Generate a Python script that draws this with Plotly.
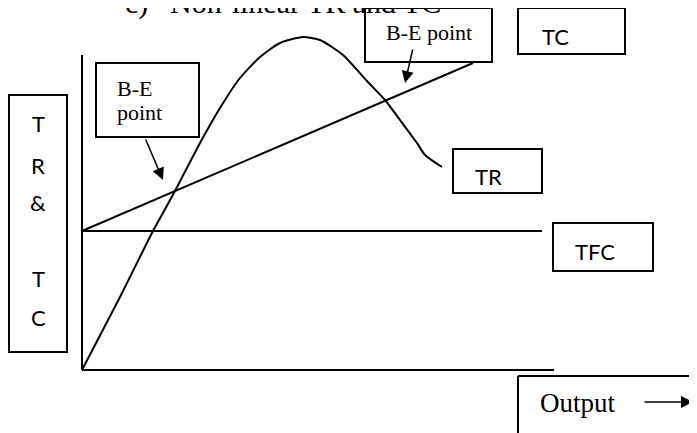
import plotly.graph_objects as go

# ---- data (output units on x, TR & TC units on y) ----
tr_output = [0, 38, 71, 93, 118, 138, 158, 178, 198, 221, 238, 261, 285, 303, 318, 335, 343, 360]
tr_values = [0, 73, 139, 179, 227, 262, 292, 313, 327, 333, 330, 315, 289, 270, 250, 227, 215, 203]
tc_output = [0, 391]
tc_values = [139, 307]
tfc_output = [0, 460]
tfc_values = [139, 139]
xaxis_line_x = [0, 472]
xaxis_line_y = [0, 0]
yaxis_line_x = [0, 0]
yaxis_line_y = [0, 315]

title_label = "Non-linear TR and TC"
title_prefix = "c)"
be_label_left = ["B-E", "point"]
be_label_right = "B-E point"
y_letters = ["T", "R", "&", "T", "C"]
curve_labels = {"TC": "TC", "TR": "TR", "TFC": "TFC"}
x_label = "Output"

SERIF = "Liberation Serif, Times New Roman, serif"
SANS = "Lato, Carlito, Calibri, sans-serif"
BLACK = "#000000"

fig = go.Figure()
line_style = dict(color=BLACK, width=2)
fig.add_trace(go.Scatter(x=xaxis_line_x, y=xaxis_line_y, mode="lines", line=line_style, hoverinfo="skip"))
fig.add_trace(go.Scatter(x=yaxis_line_x, y=yaxis_line_y, mode="lines", line=line_style, hoverinfo="skip"))
fig.add_trace(go.Scatter(x=tfc_output, y=tfc_values, mode="lines", line=line_style, name="TFC"))
fig.add_trace(go.Scatter(x=tc_output, y=tc_values, mode="lines", line=line_style, name="TC"))
fig.add_trace(go.Scatter(x=tr_output, y=tr_values, mode="lines",
                         line=dict(color=BLACK, width=2, shape="spline", smoothing=0.6), name="TR"))

# ---- label boxes ----
def box(x0, y0, x1, y1):
    fig.add_shape(type="rect", xref="x", yref="y", x0=x0, y0=y0, x1=x1, y1=y1,
                  line=dict(color=BLACK, width=2), fillcolor="rgba(0,0,0,0)")

box(-73, 18, -15, 275)      # vertical TR & TC label
box(14, 233, 117, 307)      # B-E point (left)
box(283, 308, 410, 362)     # B-E point (right)
box(436, 316, 543, 362)     # TC
box(371, 177, 460, 221)     # TR
box(471, 99, 571, 147)      # TFC
fig.add_shape(type="line", xref="x", yref="y", x0=436, y0=-6, x1=640, y1=-6, line=dict(color=BLACK, width=2))
fig.add_shape(type="line", xref="x", yref="y", x0=436, y0=-6, x1=436, y1=-90, line=dict(color=BLACK, width=2))

def text(x, y, s, font, size, xanchor="left", yanchor="middle"):
    fig.add_annotation(x=x, y=y, xref="x", yref="y", text=s, showarrow=False,
                       xanchor=xanchor, yanchor=yanchor,
                       font=dict(family=font, size=size, color=BLACK))

# title (clipped at the top edge, as in the source)
for tx, s in [(41, title_prefix), (86, title_label)]:
    fig.add_annotation(x=tx, y=1.0125, xref="x", yref="paper", text=s, showarrow=False,
                       xanchor="left", yanchor="middle",
                       font=dict(family=SERIF, size=30, color=BLACK))

# vertical label letters
for letter, yy in zip(y_letters, [247, 205, 168, 92, 53]):
    text(-44, yy, letter, SANS, 22, xanchor="center")

text(33, 282, be_label_left[0], SERIF, 22)
text(33, 258, be_label_left[1], SERIF, 22)
text(302, 338, be_label_right, SERIF, 22)
text(458, 334, curve_labels["TC"], SANS, 22)
text(391, 194, curve_labels["TR"], SANS, 22)
text(491, 119, curve_labels["TFC"], SANS, 22)
text(456, -33, x_label, SERIF, 27)

# arrows
def arrow(x, y, ax, ay):
    fig.add_annotation(x=x, y=y, ax=ax, ay=ay, xref="x", yref="y", axref="x", ayref="y",
                       text="", showarrow=True, arrowhead=2, arrowsize=1.6, arrowwidth=1.5,
                       arrowcolor=BLACK)

arrow(81, 190, 63, 232)
arrow(323, 287, 331, 322)
arrow(611, -32, 561, -32)

# the page adds an 8px body margin, so the ranges are offset to keep the drawing in place
fig.update_layout(
    width=697, height=433,
    margin=dict(l=0, r=0, t=0, b=0),
    paper_bgcolor="white", plot_bgcolor="white",
    showlegend=False,
    xaxis=dict(range=[-74, 623], visible=False, fixedrange=True),
    yaxis=dict(range=[-71, 362], visible=False, fixedrange=True),
)

fig.write_html("out.html")
